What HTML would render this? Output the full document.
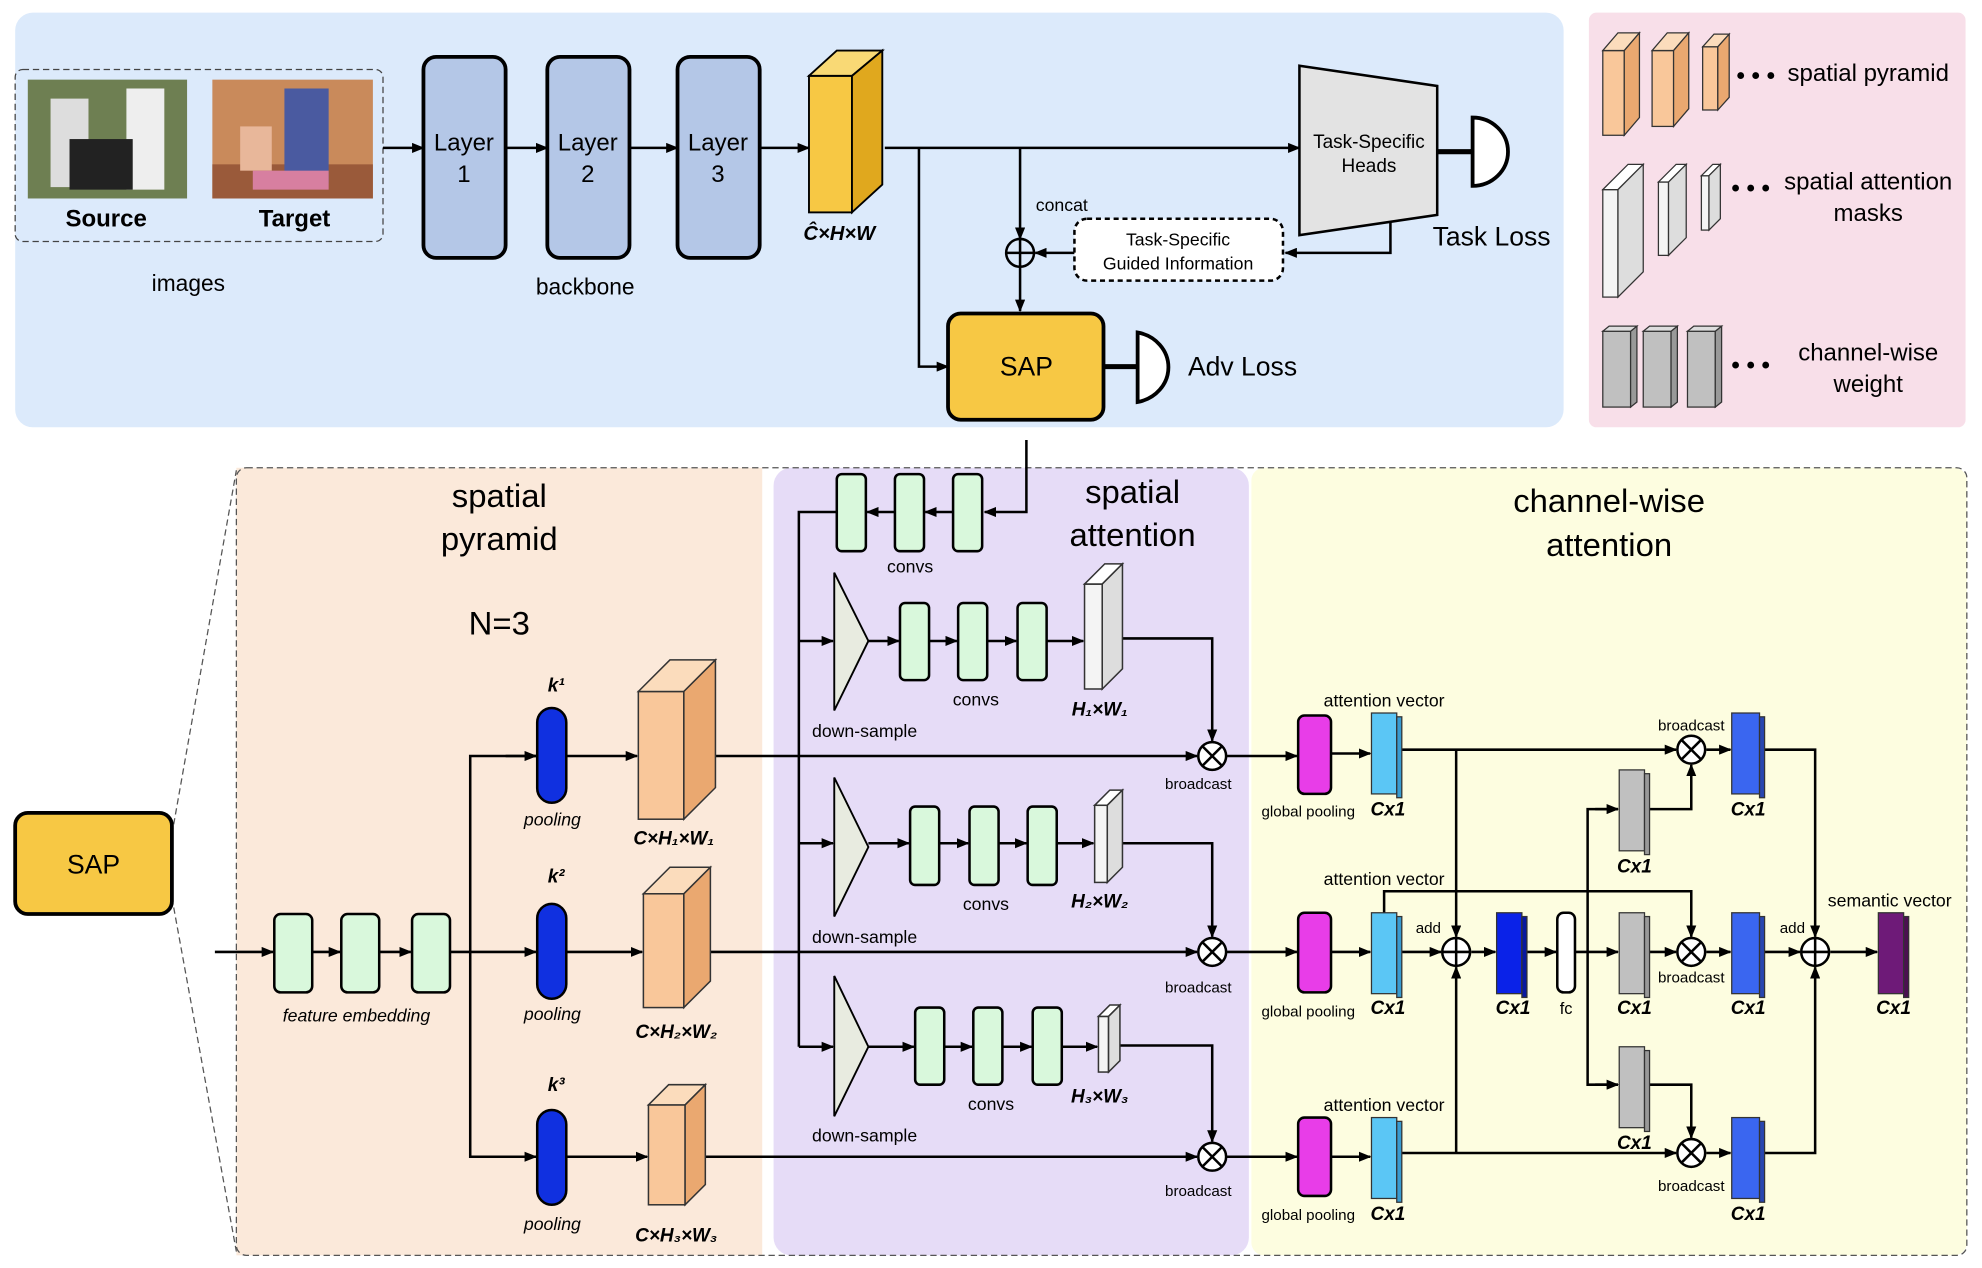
<!DOCTYPE html>
<html><head><meta charset="utf-8"><style>html,body{margin:0;padding:0;background:#fff}svg{display:block}text{font-family:"Liberation Sans",sans-serif}</style></head><body>
<svg width="1982" height="1268" viewBox="0 0 1568 1003" preserveAspectRatio="none" xmlns="http://www.w3.org/2000/svg">
<defs><marker id="a" markerWidth="10" markerHeight="8" refX="9" refY="4" orient="auto" markerUnits="userSpaceOnUse"><path d="M0,0L10,4L0,8z" fill="#000"/></marker></defs>
<rect width="1568" height="1003" fill="#fff"/>
<rect x="12" y="10" width="1225" height="328" rx="14" fill="#dceafb"/>
<rect x="1257" y="10" width="298" height="328" rx="6" fill="#f8dfe9"/>
<rect x="187" y="370" width="416" height="623" fill="#fbe9da"/>
<rect x="612" y="370" width="376" height="623" rx="14" fill="#e6dcf7"/>
<rect x="990" y="370" width="566" height="623" rx="10" fill="#fdfde0"/>
<rect x="187" y="370" width="1369" height="623" rx="8" fill="none" stroke="#555" stroke-dasharray="5,3" stroke-width="1"/>
<line x1="136" y1="660" x2="187" y2="372" stroke="#555" stroke-dasharray="5,3"/>
<line x1="136" y1="710" x2="187" y2="990" stroke="#555" stroke-dasharray="5,3"/>
<rect x="12" y="643" width="124" height="80" rx="10" fill="#f7c844" stroke="#000" stroke-width="3"/>
<text x="74" y="691" font-size="21" text-anchor="middle">SAP</text>

<g stroke="#000" stroke-width="2" fill="none">
<rect x="12" y="55" width="291" height="136" rx="6" stroke="#444" stroke-width="1" stroke-dasharray="5,3"/>
<line x1="303" y1="117" x2="335" y2="117" marker-end="url(#a)"/>
<line x1="400" y1="117" x2="433" y2="117" marker-end="url(#a)"/>
<line x1="498" y1="117" x2="536" y2="117" marker-end="url(#a)"/>
<line x1="601" y1="117" x2="640" y2="117" marker-end="url(#a)"/>
<line x1="700" y1="117" x2="1028" y2="117" marker-end="url(#a)"/>
<polyline points="727,117 727,290 750,290" marker-end="url(#a)"/>
<line x1="807" y1="117" x2="807" y2="189" marker-end="url(#a)"/>
<line x1="807" y1="211" x2="807" y2="246" marker-end="url(#a)"/>
<polyline points="1100,170 1100,200 1017,200" marker-end="url(#a)"/>
<line x1="850" y1="200" x2="819" y2="200" marker-end="url(#a)"/>
<line x1="1137" y1="120" x2="1165" y2="120" stroke-width="4"/>
<line x1="873" y1="290" x2="900" y2="290" stroke-width="4"/>
<polyline points="812,348 812,405 779,405" marker-end="url(#a)"/>
</g>
<circle cx="807" cy="200" r="11" fill="none" stroke="#000" stroke-width="2"/>
<path d="M796,200H818M807,189V211" stroke="#000" stroke-width="2"/>
<rect x="22" y="63" width="126" height="94" fill="#6e7f52"/>
<rect x="40" y="78" width="30" height="70" fill="#ddd"/><rect x="100" y="70" width="30" height="80" fill="#eee"/><rect x="55" y="110" width="50" height="40" fill="#222"/>
<rect x="168" y="63" width="127" height="94" fill="#c98a5b"/>
<rect x="168" y="130" width="127" height="27" fill="#9a5a3a"/><rect x="225" y="70" width="35" height="75" fill="#4a5aa0"/><rect x="190" y="100" width="25" height="35" fill="#e8b79a"/><rect x="200" y="135" width="60" height="15" fill="#d77fa0"/>
<text x="84" y="179" font-size="19" font-weight="bold" text-anchor="middle">Source</text>
<text x="233" y="179" font-size="19" font-weight="bold" text-anchor="middle">Target</text>
<text x="149" y="230" font-size="18" text-anchor="middle">images</text>
<g fill="#b4c7e7" stroke="#000" stroke-width="3">
<rect x="335" y="45" width="65" height="159" rx="10"/><rect x="433" y="45" width="65" height="159" rx="10"/><rect x="536" y="45" width="65" height="159" rx="10"/></g>
<g font-size="19" text-anchor="middle"><text x="367" y="119">Layer</text><text x="367" y="144">1</text><text x="465" y="119">Layer</text><text x="465" y="144">2</text><text x="568" y="119">Layer</text><text x="568" y="144">3</text></g>
<text x="463" y="233" font-size="18" text-anchor="middle">backbone</text>
<g stroke="#000" stroke-width="1.5"><rect x="640" y="60" width="34" height="108" fill="#f7c844"/><polygon points="640,60 662,40 698,40 674,60" fill="#f9d975"/><polygon points="674,60 698,40 698,146 674,168" fill="#e0a81e"/></g>
<text x="664" y="190" font-size="16" font-weight="bold" font-style="italic" text-anchor="middle">Ĉ×H×W</text>
<text x="840" y="167" font-size="14" text-anchor="middle">concat</text>
<polygon points="1028,52 1137,68 1137,170 1028,186" fill="#e3e3e3" stroke="#000" stroke-width="2"/>
<text x="1083" y="117" font-size="15" text-anchor="middle">Task-Specific</text><text x="1083" y="136" font-size="15" text-anchor="middle">Heads</text>
<path d="M1165,93 A28,27 0 0 1 1165,147 Z" fill="#fff" stroke="#000" stroke-width="3"/>
<text x="1180" y="194" font-size="21" text-anchor="middle">Task Loss</text>
<rect x="850" y="173" width="165" height="49" rx="10" fill="#fff" stroke="#000" stroke-width="2" stroke-dasharray="4,3"/>
<text x="932" y="194" font-size="14" text-anchor="middle">Task-Specific</text><text x="932" y="213" font-size="14" text-anchor="middle">Guided Information</text>
<rect x="750" y="248" width="123" height="84" rx="10" fill="#f7c844" stroke="#000" stroke-width="3"/>
<text x="812" y="297" font-size="21" text-anchor="middle">SAP</text>
<path d="M900,263 A30,28 0 0 1 900,318 Z" fill="#fff" stroke="#000" stroke-width="3"/>
<text x="983" y="297" font-size="21" text-anchor="middle">Adv Loss</text>

<g stroke="#333" stroke-width="1">
<rect x="1268" y="40" width="17" height="67" fill="#f9c79a"/><polygon points="1268,40 1280,26 1297,26 1285,40" fill="#fbdcbc"/><polygon points="1285,40 1297,26 1297,93 1285,107" fill="#eaa870"/>
<rect x="1307" y="40" width="17" height="60" fill="#f9c79a"/><polygon points="1307,40 1319,26 1336,26 1324,40" fill="#fbdcbc"/><polygon points="1324,40 1336,26 1336,86 1324,100" fill="#eaa870"/>
<rect x="1347" y="37" width="12" height="50" fill="#f9c79a"/><polygon points="1347,37 1356,27 1368,27 1359,37" fill="#fbdcbc"/><polygon points="1359,37 1368,27 1368,77 1359,87" fill="#eaa870"/>
<rect x="1268" y="150" width="12" height="85" fill="#f4f4f4"/><polygon points="1268,150 1288,130 1300,130 1280,150" fill="#fff"/><polygon points="1280,150 1300,130 1300,215 1280,235" fill="#ddd"/>
<rect x="1312" y="144" width="8" height="58" fill="#f4f4f4"/><polygon points="1312,144 1326,130 1334,130 1320,144" fill="#fff"/><polygon points="1320,144 1334,130 1334,188 1320,202" fill="#ddd"/>
<rect x="1346" y="139" width="6" height="43" fill="#f4f4f4"/><polygon points="1346,139 1355,130 1361,130 1352,139" fill="#fff"/><polygon points="1352,139 1361,130 1361,173 1352,182" fill="#ddd"/>
<rect x="1268" y="262" width="22" height="60" fill="#c0c0c0"/><polygon points="1290,262 1295,258 1295,318 1290,322" fill="#999"/><polygon points="1268,262 1273,258 1295,258 1290,262" fill="#ddd"/>
<rect x="1300" y="262" width="22" height="60" fill="#c0c0c0"/><polygon points="1322,262 1327,258 1327,318 1322,322" fill="#999"/><polygon points="1300,262 1305,258 1327,258 1322,262" fill="#ddd"/>
<rect x="1335" y="262" width="22" height="60" fill="#c0c0c0"/><polygon points="1357,262 1362,258 1362,318 1357,322" fill="#999"/><polygon points="1335,262 1340,258 1362,258 1357,262" fill="#ddd"/>
</g>
<g font-size="19" text-anchor="middle">
<text x="1389" y="66" font-weight="bold">• • •</text><text x="1478" y="64">spatial pyramid</text>
<text x="1385" y="155" font-weight="bold">• • •</text><text x="1478" y="150">spatial attention</text><text x="1478" y="175">masks</text>
<text x="1385" y="295" font-weight="bold">• • •</text><text x="1478" y="285">channel-wise</text><text x="1478" y="310">weight</text>
</g>

<g font-size="26" text-anchor="middle">
<text x="395" y="401">spatial</text><text x="395" y="435">pyramid</text>
<text x="395" y="502">N=3</text>
<text x="896" y="398">spatial</text><text x="896" y="432">attention</text>
<text x="1273" y="405">channel-wise</text><text x="1273" y="440">attention</text>
</g>

<g stroke="#000" stroke-width="2" fill="none">
<line x1="170" y1="753" x2="216" y2="753" marker-end="url(#a)"/>
<line x1="247" y1="753" x2="269" y2="753" marker-end="url(#a)"/>
<line x1="300" y1="753" x2="325" y2="753" marker-end="url(#a)"/>
<line x1="356" y1="753" x2="424" y2="753" marker-end="url(#a)"/>
<polyline points="424,598 372,598 372,915 424,915"/>
<line x1="400" y1="598" x2="424" y2="598" marker-end="url(#a)"/>
<line x1="400" y1="915" x2="424" y2="915" marker-end="url(#a)"/>
<line x1="448" y1="598" x2="504" y2="598" marker-end="url(#a)"/>
<line x1="448" y1="753" x2="508" y2="753" marker-end="url(#a)"/>
<line x1="448" y1="915" x2="512" y2="915" marker-end="url(#a)"/>
<line x1="566" y1="598" x2="947" y2="598" marker-end="url(#a)"/>
<line x1="562" y1="753" x2="947" y2="753" marker-end="url(#a)"/>
<line x1="558" y1="915" x2="947" y2="915" marker-end="url(#a)"/>
<line x1="754" y1="405" x2="732" y2="405" marker-end="url(#a)"/>
<line x1="708" y1="405" x2="686" y2="405" marker-end="url(#a)"/>
<polyline points="662,405 632,405 632,828"/>
<line x1="632" y1="507" x2="659" y2="507" marker-end="url(#a)"/>
<line x1="632" y1="667" x2="659" y2="667" marker-end="url(#a)"/>
<line x1="632" y1="828" x2="659" y2="828" marker-end="url(#a)"/>
<line x1="687" y1="507" x2="711" y2="507" marker-end="url(#a)"/><line x1="735" y1="507" x2="757" y2="507" marker-end="url(#a)"/><line x1="781" y1="507" x2="804" y2="507" marker-end="url(#a)"/><line x1="828" y1="507" x2="857" y2="507" marker-end="url(#a)"/>
<line x1="687" y1="667" x2="719" y2="667" marker-end="url(#a)"/><line x1="743" y1="667" x2="766" y2="667" marker-end="url(#a)"/><line x1="790" y1="667" x2="812" y2="667" marker-end="url(#a)"/><line x1="836" y1="667" x2="865" y2="667" marker-end="url(#a)"/>
<line x1="687" y1="828" x2="723" y2="828" marker-end="url(#a)"/><line x1="747" y1="828" x2="769" y2="828" marker-end="url(#a)"/><line x1="793" y1="828" x2="816" y2="828" marker-end="url(#a)"/><line x1="840" y1="828" x2="868" y2="828" marker-end="url(#a)"/>
<polyline points="888,505 959,505 959,586" marker-end="url(#a)"/>
<polyline points="888,667 959,667 959,741" marker-end="url(#a)"/>
<polyline points="886,827 959,827 959,903" marker-end="url(#a)"/>
<line x1="970" y1="598" x2="1026" y2="598" marker-end="url(#a)"/>
<line x1="970" y1="753" x2="1026" y2="753" marker-end="url(#a)"/>
<line x1="970" y1="915" x2="1026" y2="915" marker-end="url(#a)"/>
<line x1="1053" y1="596" x2="1084" y2="596" marker-end="url(#a)"/>
<line x1="1053" y1="753" x2="1084" y2="753" marker-end="url(#a)"/>
<line x1="1053" y1="915" x2="1084" y2="915" marker-end="url(#a)"/>
<line x1="1105" y1="593" x2="1326" y2="593" marker-end="url(#a)"/>
<line x1="1105" y1="912" x2="1326" y2="912" marker-end="url(#a)"/>
<line x1="1152" y1="593" x2="1152" y2="741" marker-end="url(#a)"/>
<line x1="1152" y1="912" x2="1152" y2="765" marker-end="url(#a)"/>
<line x1="1105" y1="753" x2="1140" y2="753" marker-end="url(#a)"/>
<polyline points="1095,722 1095,705 1338,705 1338,741" marker-end="url(#a)"/>
<line x1="1164" y1="753" x2="1183" y2="753" marker-end="url(#a)"/>
<line x1="1208" y1="753" x2="1231" y2="753" marker-end="url(#a)"/>
<line x1="1246" y1="753" x2="1280" y2="753" marker-end="url(#a)"/>
<polyline points="1280,640 1256,640 1256,858 1280,858"/>
<line x1="1262" y1="640" x2="1280" y2="640" marker-end="url(#a)"/>
<line x1="1262" y1="858" x2="1280" y2="858" marker-end="url(#a)"/>
<polyline points="1305,640 1338,640 1338,605" marker-end="url(#a)"/>
<polyline points="1305,858 1338,858 1338,900" marker-end="url(#a)"/>
<line x1="1305" y1="753" x2="1326" y2="753" marker-end="url(#a)"/>
<line x1="1350" y1="593" x2="1369" y2="593" marker-end="url(#a)"/>
<line x1="1350" y1="753" x2="1369" y2="753" marker-end="url(#a)"/>
<line x1="1350" y1="912" x2="1369" y2="912" marker-end="url(#a)"/>
<polyline points="1396,593 1436,593 1436,741" marker-end="url(#a)"/>
<polyline points="1396,912 1436,912 1436,765" marker-end="url(#a)"/>
<line x1="1396" y1="753" x2="1424" y2="753" marker-end="url(#a)"/>
<line x1="1448" y1="753" x2="1485" y2="753" marker-end="url(#a)"/>
</g>
<g fill="#fff" stroke="#000" stroke-width="2">
<circle cx="959" cy="598" r="11"/><circle cx="959" cy="753" r="11"/><circle cx="959" cy="915" r="11"/>
<circle cx="1338" cy="593" r="11"/><circle cx="1338" cy="753" r="11"/><circle cx="1338" cy="912" r="11"/>
<circle cx="1152" cy="753" r="11"/><circle cx="1436" cy="753" r="11"/>
</g>
<g stroke="#000" stroke-width="2">
<path d="M951,590L967,606M967,590L951,606M951,745L967,761M967,745L951,761M951,907L967,923M967,907L951,923"/>
<path d="M1330,585L1346,601M1346,585L1330,601M1330,745L1346,761M1346,745L1330,761M1330,904L1346,920M1346,904L1330,920"/>
<path d="M1141,753H1163M1152,742V764M1425,753H1447M1436,742V764"/>
</g>
<g fill="#d9f8dc" stroke="#000" stroke-width="2">
<rect x="217" y="723" width="30" height="62" rx="5"/><rect x="270" y="723" width="30" height="62" rx="5"/><rect x="326" y="723" width="30" height="62" rx="5"/>
<rect x="662" y="375" width="23" height="61" rx="4"/><rect x="708" y="375" width="23" height="61" rx="4"/><rect x="754" y="375" width="23" height="61" rx="4"/>
<rect x="712" y="477" width="23" height="61" rx="4"/><rect x="758" y="477" width="23" height="61" rx="4"/><rect x="805" y="477" width="23" height="61" rx="4"/>
<rect x="720" y="638" width="23" height="62" rx="4"/><rect x="767" y="638" width="23" height="62" rx="4"/><rect x="813" y="638" width="23" height="62" rx="4"/>
<rect x="724" y="797" width="23" height="61" rx="4"/><rect x="770" y="797" width="23" height="61" rx="4"/><rect x="817" y="797" width="23" height="61" rx="4"/>
</g>
<g fill="#e8ebe0" stroke="#000" stroke-width="1.5">
<polygon points="660,453 687,507 660,562"/><polygon points="660,615 687,670 660,725"/><polygon points="660,772 687,828 660,883"/>
</g>
<g fill="#1030e0" stroke="#000" stroke-width="2">
<rect x="425" y="560" width="23" height="75" rx="11.5"/><rect x="425" y="715" width="23" height="75" rx="11.5"/><rect x="425" y="878" width="23" height="75" rx="11.5"/>
</g>
<g stroke="#333" stroke-width="1.2">
<rect x="505" y="547" width="36" height="101" fill="#f9c79a"/><polygon points="505,547 530,522 566,522 541,547" fill="#fbdcbc"/><polygon points="541,547 566,522 566,623 541,648" fill="#eaa870"/>
<rect x="509" y="707" width="32" height="90" fill="#f9c79a"/><polygon points="509,707 530,686 562,686 541,707" fill="#fbdcbc"/><polygon points="541,707 562,686 562,776 541,797" fill="#eaa870"/>
<rect x="513" y="874" width="29" height="79" fill="#f9c79a"/><polygon points="513,874 529,858 558,858 542,874" fill="#fbdcbc"/><polygon points="542,874 558,858 558,937 542,953" fill="#eaa870"/>
<rect x="858" y="462" width="14" height="83" fill="#f4f4f4"/><polygon points="858,462 874,446 888,446 872,462" fill="#fff"/><polygon points="872,462 888,446 888,529 872,545" fill="#ddd"/>
<rect x="866" y="637" width="10" height="61" fill="#f4f4f4"/><polygon points="866,637 878,625 888,625 876,637" fill="#fff"/><polygon points="876,637 888,625 888,686 876,698" fill="#ddd"/>
<rect x="869" y="804" width="8" height="44" fill="#f4f4f4"/><polygon points="869,804 878,795 886,795 877,804" fill="#fff"/><polygon points="877,804 886,795 886,839 877,848" fill="#ddd"/>
</g>
<g fill="#e83de8" stroke="#000" stroke-width="2">
<rect x="1027" y="566" width="26" height="62" rx="5"/><rect x="1027" y="722" width="26" height="63" rx="5"/><rect x="1027" y="884" width="26" height="62" rx="5"/>
</g>
<rect x="1232" y="722" width="14" height="63" rx="5" fill="#fff" stroke="#000" stroke-width="2"/>
<g stroke="#333" stroke-width="1">
<rect x="1085" y="564" width="20" height="64" fill="#5bc6f5"/><rect x="1105" y="567" width="4" height="64" fill="#3a9bd0"/>
<rect x="1085" y="722" width="20" height="64" fill="#5bc6f5"/><rect x="1105" y="725" width="4" height="64" fill="#3a9bd0"/>
<rect x="1085" y="884" width="20" height="64" fill="#5bc6f5"/><rect x="1105" y="887" width="4" height="64" fill="#3a9bd0"/>
<rect x="1184" y="722" width="20" height="64" fill="#0a22e8"/><rect x="1204" y="725" width="4" height="64" fill="#0818a0"/>
<rect x="1281" y="609" width="20" height="64" fill="#c0c0c0"/><rect x="1301" y="612" width="4" height="64" fill="#999"/>
<rect x="1281" y="722" width="20" height="64" fill="#c0c0c0"/><rect x="1301" y="725" width="4" height="64" fill="#999"/>
<rect x="1281" y="828" width="20" height="64" fill="#c0c0c0"/><rect x="1301" y="831" width="4" height="64" fill="#999"/>
<rect x="1370" y="564" width="22" height="64" fill="#3a66f0"/><rect x="1392" y="567" width="4" height="64" fill="#2846b0"/>
<rect x="1370" y="722" width="22" height="64" fill="#3a66f0"/><rect x="1392" y="725" width="4" height="64" fill="#2846b0"/>
<rect x="1370" y="884" width="22" height="64" fill="#3a66f0"/><rect x="1392" y="887" width="4" height="64" fill="#2846b0"/>
<rect x="1486" y="722" width="20" height="64" fill="#6e1a78"/><rect x="1506" y="725" width="4" height="64" fill="#4a1050"/>
</g>
<g font-size="14" text-anchor="middle">
<text x="282" y="808" font-style="italic">feature embedding</text>
<text x="437" y="653" font-style="italic">pooling</text><text x="437" y="807" font-style="italic">pooling</text><text x="437" y="973" font-style="italic">pooling</text>
<text x="720" y="453">convs</text><text x="772" y="558">convs</text><text x="780" y="720">convs</text><text x="784" y="878">convs</text>
<text x="684" y="583">down-sample</text><text x="684" y="746">down-sample</text><text x="684" y="903">down-sample</text>
<text x="948" y="624" font-size="12">broadcast</text><text x="948" y="785" font-size="12">broadcast</text><text x="948" y="946" font-size="12">broadcast</text>
<text x="1035" y="646" font-size="12">global pooling</text><text x="1035" y="804" font-size="12">global pooling</text><text x="1035" y="965" font-size="12">global pooling</text>
<text x="1095" y="559">attention vector</text><text x="1095" y="700">attention vector</text><text x="1095" y="879">attention vector</text>
<text x="1338" y="578" font-size="12">broadcast</text><text x="1338" y="777" font-size="12">broadcast</text><text x="1338" y="942" font-size="12">broadcast</text>
<text x="1130" y="738" font-size="12">add</text><text x="1418" y="738" font-size="12">add</text>
<text x="1239" y="802" font-size="13">fc</text>
<text x="1495" y="717">semantic vector</text>
</g>
<g font-size="15" font-weight="bold" font-style="italic" text-anchor="middle" font-family="Liberation Serif">
<text x="440" y="547">k¹</text><text x="440" y="698">k²</text><text x="440" y="863">k³</text>
<text x="533" y="668">C×H₁×W₁</text><text x="535" y="821">C×H₂×W₂</text><text x="535" y="982">C×H₃×W₃</text>
<text x="870" y="566">H₁×W₁</text><text x="870" y="718">H₂×W₂</text><text x="870" y="872">H₃×W₃</text>
<text x="1098" y="645">Cx1</text><text x="1098" y="802">Cx1</text><text x="1098" y="965">Cx1</text>
<text x="1197" y="802">Cx1</text><text x="1293" y="690">Cx1</text><text x="1293" y="802">Cx1</text><text x="1293" y="909">Cx1</text>
<text x="1383" y="645">Cx1</text><text x="1383" y="802">Cx1</text><text x="1383" y="965">Cx1</text><text x="1498" y="802">Cx1</text>
</g>
</svg>
</body></html>
